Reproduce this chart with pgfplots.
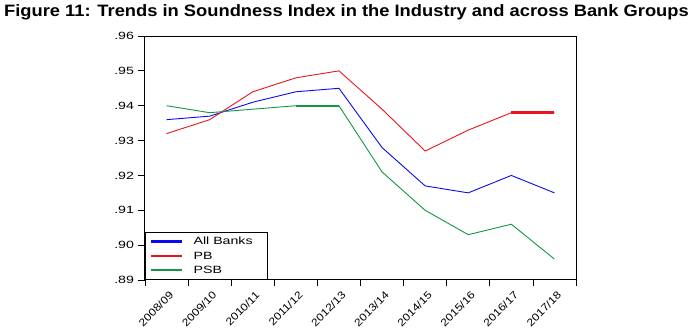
\documentclass[border=0pt]{standalone}
\usepackage{pgfplots}
\pgfplotsset{compat=1.18}
\usepackage{fontspec}
\setmainfont{Liberation Sans}
\newfontfamily\titlefont[FakeStretch=1.11]{Liberation Sans}
\newfontfamily\widefont[FakeStretch=1.35]{Liberation Sans}
\newfontfamily\xfont[FakeStretch=1.15]{Liberation Sans}
\definecolor{cblue}{RGB}{10,10,240}
\definecolor{cred}{RGB}{235,20,30}
\definecolor{cgreen}{RGB}{20,150,70}
\begin{document}
\begin{tikzpicture}
\useasboundingbox (-145pt,-49pt) rectangle (549pt,280pt);
\node[anchor=north west,font=\titlefont\bfseries\fontsize{16.5}{19}\selectfont,inner sep=0pt] at (-141pt,276pt) {Figure 11: Trends in Soundness Index in the Industry and across Bank Groups};
\begin{axis}[
  at={(0pt,0pt)}, anchor=south west, scale only axis,
  width=431pt, height=244pt,
  xmin=-0.5, xmax=9.5, ymin=0.89, ymax=0.96,
  axis line style={line width=1pt},
  tick pos=left, tick align=outside,
  ytick={0.89,0.90,0.91,0.92,0.93,0.94,0.95,0.96},
  yticklabels={.89,.90,.91,.92,.93,.94,.95,.96},
  xtick={0,1,2,3,4,5,6,7,8,9},
  xticklabels={2008/09,2009/10,2010/11,2011/12,2012/13,2013/14,2014/15,2015/16,2016/17,2017/18},
  major x tick style={draw=none},
  minor xtick={-0.5,0.5,1.5,2.5,3.5,4.5,5.5,6.5,7.5,8.5,9.5},
  minor tick length=6pt, major tick length=7pt,
  every tick/.style={black, line width=0.8pt},
  /pgf/number format/assume math mode=true,
  tick label style={font=\widefont\fontsize{10.5}{12}\selectfont},
  y tick label style={xshift=-0.5pt},
  x tick label style={font=\xfont\fontsize{10.5}{12}\selectfont, rotate=45, anchor=north east, inner sep=0pt, xshift=-1pt, yshift=-4pt},
  legend style={at={(0,0)}, anchor=south west, draw=black, line width=1.2pt,
    font=\widefont\fontsize{10.5}{12}\selectfont, inner xsep=4pt, inner ysep=2.5pt, row sep=1.5pt, cells={anchor=west}},
  legend image code/.code={\draw[#1] (0pt,0pt) -- (31pt,0pt);},
]
\addplot[cblue, line width=0.9pt, forget plot] coordinates {(0,0.936) (1,0.937) (2,0.941) (3,0.944) (4,0.945) (5,0.928) (6,0.917) (7,0.915) (8,0.920) (9,0.915)};
\addplot[cred, line width=0.9pt, forget plot] coordinates {(0,0.932) (1,0.936) (2,0.944) (3,0.948) (4,0.950) (5,0.939) (6,0.927) (7,0.933) (8,0.938) (9,0.938)};
\addplot[cgreen, line width=0.9pt, forget plot] coordinates {(0,0.940) (1,0.938) (2,0.939) (3,0.940) (4,0.940) (5,0.921) (6,0.910) (7,0.903) (8,0.906) (9,0.896)};
\addplot[cgreen, line width=2pt, forget plot] coordinates {(3,0.940) (4,0.940)};
\addplot[cred, line width=3pt, forget plot] coordinates {(8,0.938) (9,0.938)};
\addlegendimage{cblue, line width=3pt}
\addlegendentry{\makebox[76pt][l]{\hspace{8pt}All Banks}}
\addlegendimage{cred, line width=2pt}
\addlegendentry{\hspace{8pt}PB}
\addlegendimage{cgreen, line width=2pt}
\addlegendentry{\hspace{8pt}PSB}
\end{axis}
\end{tikzpicture}
\end{document}
